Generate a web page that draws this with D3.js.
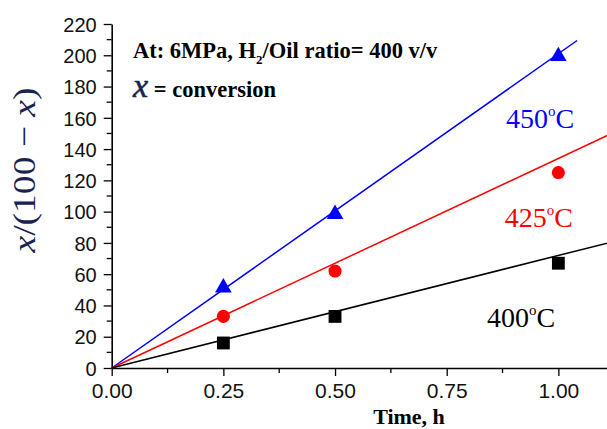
<!DOCTYPE html>
<html>
<head>
<meta charset="utf-8">
<script src="https://cdn.jsdelivr.net/npm/d3@7.9.0/dist/d3.min.js"></script>
<style>
  body { margin: 0; background: #fff; }
  svg { display: block; }
</style>
</head>
<body>
<svg id="chart" width="607" height="429"></svg>
<script>
// data
const times = [0.25, 0.5, 1.0];
const temps = ['450', '425', '400'];
const colors = ['#0000ff', '#ff0000', '#000000'];
const shapes = ['triangle', 'circle', 'square'];
const values450 = [52, 99, 200];
const values425 = [33, 62, 125];
const values400 = [16, 33, 67];
const seriesValues = [values450, values425, values400];
// fitted line slopes (through origin) and the time where each line stops
const fitSlopes = [201, 134, 72];
const fitEnds = [1.042, 1.11, 1.11];
const xTicks = [0, 0.25, 0.5, 0.75, 1.0];
const yTicks = [0, 20, 40, 60, 80, 100, 120, 140, 160, 180, 200, 220];
const labelPos = [[0.883, 153.5], [0.88, 90], [0.84, 26]]; // [time, value] for temp labels

const svg = d3.select('#chart');

const x = d3.scaleLinear().domain([0, 1.11]).range([111.7, 607.5]);
const y = d3.scaleLinear().domain([0, 220]).range([368, 24]);

// axes
const xAxis = d3.axisBottom(x).tickValues(xTicks).tickFormat(d3.format('.2f'))
  .tickSize(8).tickSizeOuter(0);
const yAxis = d3.axisLeft(y).tickValues(yTicks).tickFormat(d3.format('d'))
  .tickSize(8).tickSizeOuter(0);

const gx = svg.append('g').attr('transform', `translate(0,${y(0)})`).call(xAxis);
const gy = svg.append('g').attr('transform', `translate(${x(0)},0)`).call(yAxis);

// minor ticks
const xMinor = d3.range(0.125, 1.11, 0.25);
gx.selectAll('.minor').data(xMinor).enter().append('line')
  .attr('x1', d => x(d)).attr('x2', d => x(d))
  .attr('y1', 0).attr('y2', 5)
  .attr('stroke', '#000').attr('stroke-width', 1.3);
const yMinor = d3.range(10, 220, 20);
gy.selectAll('.minor').data(yMinor).enter().append('line')
  .attr('y1', d => y(d)).attr('y2', d => y(d))
  .attr('x1', 0).attr('x2', -5)
  .attr('stroke', '#000').attr('stroke-width', 1.3);

[gx, gy].forEach(g => {
  g.select('.domain').attr('stroke', '#000').attr('stroke-width', 1.6);
  g.selectAll('.tick line').attr('stroke', '#000').attr('stroke-width', 1.3);
  g.selectAll('.tick text')
    .attr('fill', '#111')
    .style('font-family', '"Liberation Sans", Arial, sans-serif');
});
gx.selectAll('.tick text').style('font-size', '21px').attr('dy', '0.95em').attr('y', 10);
gy.selectAll('.tick text').style('font-size', '20px').attr('x', -15).attr('dy', '0.36em');

// fitted lines
const line = d3.line().x(d => x(d[0])).y(d => y(d[1]));
fitSlopes.forEach((s, i) => {
  svg.append('path')
    .attr('d', line([[0, 0], [fitEnds[i], s * fitEnds[i]]]))
    .attr('fill', 'none')
    .attr('stroke', colors[i])
    .attr('stroke-width', 1.5);
});

// markers
const symbolType = { triangle: d3.symbolTriangle, circle: d3.symbolCircle, square: d3.symbolSquare };
const symbolSize = { triangle: 120, circle: 135, square: 165 };
seriesValues.forEach((vals, i) => {
  const sym = d3.symbol().type(symbolType[shapes[i]]).size(symbolSize[shapes[i]]);
  svg.append('g').selectAll('path').data(vals).enter().append('path')
    .attr('d', sym)
    .attr('transform', (d, j) => `translate(${x(times[j])},${y(d) + (shapes[i] === 'triangle' ? 1 : 0)})`)
    .attr('fill', colors[i]);
});

// temperature labels
const serif = '"Liberation Serif", "Times New Roman", serif';
temps.forEach((t, i) => {
  const txt = svg.append('text')
    .attr('x', x(labelPos[i][0])).attr('y', y(labelPos[i][1]))
    .attr('fill', colors[i])
    .style('font-family', serif)
    .style('font-size', '28px');
  txt.append('tspan').text(t);
  txt.append('tspan').text('o').attr('dy', -12).style('font-size', '15px');
  txt.append('tspan').text('C').attr('dy', 12);
});

// annotation
const note = svg.append('text').attr('x', 133).attr('y', 58)
  .style('font-family', serif).style('font-weight', 'bold').style('font-size', '22.5px')
  .attr('fill', '#000');
note.append('tspan').text('At: 6MPa, H');
note.append('tspan').text('2').attr('dy', 6).style('font-size', '13px');
note.append('tspan').text('/Oil ratio= 400 v/v').attr('dy', -6);

const note2 = svg.append('text').attr('x', 133).attr('y', 97)
  .style('font-family', serif).style('font-weight', 'bold').style('font-size', '22.5px')
  .attr('fill', '#000');
note2.append('tspan').text('x')
  .style('font-style', 'italic').style('font-weight', 'normal')
  .style('font-size', '34px').attr('fill', '#1a2350')
  .attr('stroke', '#1a2350').attr('stroke-width', 0.6);
note2.append('tspan').text(' = conversion');

// axis titles
svg.append('text')
  .attr('x', 409).attr('y', 424)
  .attr('text-anchor', 'middle')
  .style('font-family', serif).style('font-weight', 'bold').style('font-size', '22px')
  .text('Time, h');

const yl = svg.append('text')
  .attr('transform', 'translate(35,170) rotate(-90)')
  .attr('text-anchor', 'middle')
  .attr('fill', '#1a2350')
  .attr('textLength', 165)
  .attr('lengthAdjust', 'spacingAndGlyphs')
  .style('font-family', serif)
  .style('font-size', '32px');
yl.append('tspan').text('x').style('font-style', 'italic');
yl.append('tspan').text('/(100 − ');
yl.append('tspan').text('x').style('font-style', 'italic');
yl.append('tspan').text(')');
</script>
</body>
</html>
